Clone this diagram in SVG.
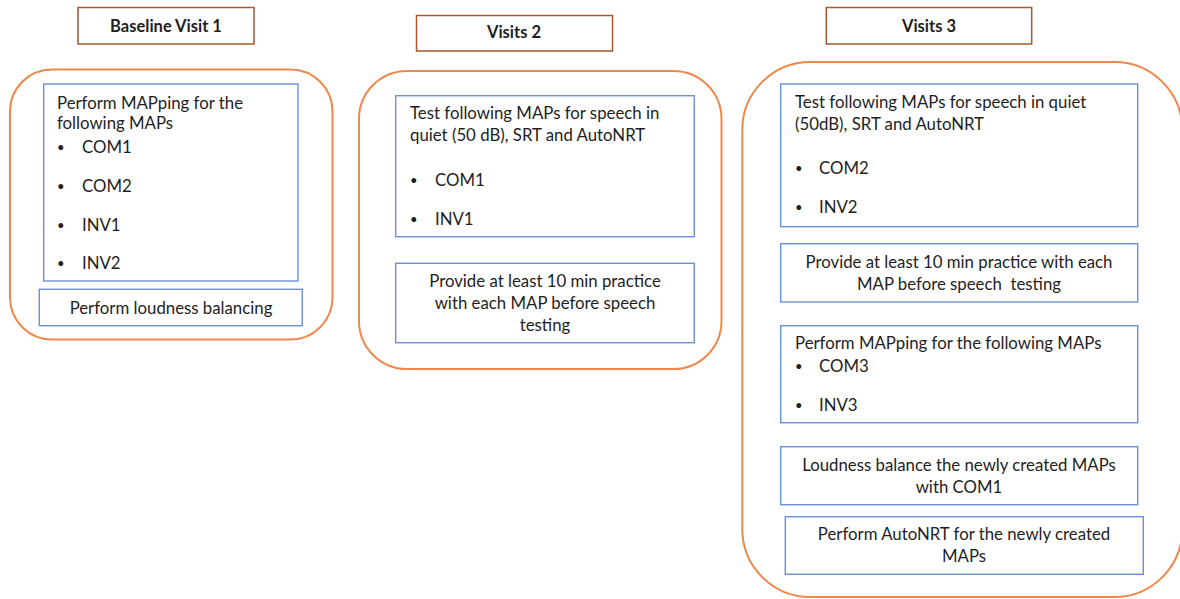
<svg xmlns="http://www.w3.org/2000/svg" width="1180" height="599" viewBox="0 0 1180 599">
<style>
.hdr{fill:#fff;stroke:#a9572e;stroke-width:1.5}
.cont{fill:#fff;stroke:#f0874a;stroke-width:2}
.box{fill:#fff;stroke:#6c8fdb;stroke-width:1.4}
text{font-family:Lato,"Liberation Sans",sans-serif;font-size:16.8px;fill:#1e1e1e}
.b{font-weight:bold;font-size:16.5px}
.c{text-anchor:middle}
.d{font-size:13px}
</style>
<rect width="1180" height="599" fill="#fff"/>
<g id="visit1">
<g id="h1"><rect class="hdr" x="78" y="7.5" width="176" height="36.5"/><text class="b c" x="166" y="32">Baseline Visit 1</text></g>
<rect class="cont" x="10" y="69.5" width="322.5" height="270" rx="42"/>
<g id="v1a"><rect class="box" x="43.7" y="84" width="254.3" height="197"/>
<text x="57" y="109">Perform MAPping for the</text>
<text x="57" y="129">following MAPs</text>
<text class="d" x="57" y="152">•</text><text x="82" y="153">COM1</text>
<text class="d" x="57" y="191">•</text><text x="82" y="192">COM2</text>
<text class="d" x="57" y="230">•</text><text x="82" y="231">INV1</text>
<text class="d" x="57" y="268">•</text><text x="82" y="269">INV2</text>
</g>
<g id="v1b"><rect class="box" x="39.3" y="289.3" width="263" height="36.4"/><text class="c" x="171" y="314">Perform loudness balancing</text></g>
</g>
<g id="visit2">
<g id="h2"><rect class="hdr" x="416.5" y="15.5" width="196" height="35.5"/><text class="b c" x="514" y="38">Visits 2</text></g>
<rect class="cont" x="359" y="71" width="362.5" height="298" rx="48"/>
<g id="v2a"><rect class="box" x="395.7" y="95.7" width="298.6" height="141"/>
<text x="410" y="119">Test following MAPs for speech in</text>
<text x="410" y="141">quiet (50 dB), SRT and AutoNRT</text>
<text class="d" x="410" y="185">•</text><text x="435" y="186">COM1</text>
<text class="d" x="410" y="224">•</text><text x="435" y="225">INV1</text>
</g>
<g id="v2b"><rect class="box" x="395.7" y="263.3" width="298.6" height="79.4"/>
<text class="c" x="545" y="287">Provide at least 10 min practice</text>
<text class="c" x="545" y="309">with each MAP before speech</text>
<text class="c" x="545" y="331">testing</text>
</g>
</g>
<g id="visit3">
<g id="h3"><rect class="hdr" x="826.3" y="7.5" width="205.4" height="36.5"/><text class="b c" x="929" y="32">Visits 3</text></g>
<rect class="cont" x="742.3" y="62" width="440" height="535" rx="68"/>
<g id="v3a"><rect class="box" x="780.7" y="84" width="357" height="142.7"/>
<text x="795" y="108">Test following MAPs for speech in quiet</text>
<text x="795" y="130">(50dB), SRT and AutoNRT</text>
<text class="d" x="795" y="173">•</text><text x="819" y="174">COM2</text>
<text class="d" x="795" y="212">•</text><text x="819" y="213">INV2</text>
</g>
<g id="v3b"><rect class="box" x="780.7" y="243.7" width="357" height="58.3"/>
<text class="c" x="959" y="268">Provide at least 10 min practice with each</text>
<text class="c" x="959" y="290" style="white-space:pre">MAP before speech  testing</text>
</g>
<g id="v3c"><rect class="box" x="780.7" y="325.7" width="357" height="97"/>
<text x="795" y="349">Perform MAPping for the following MAPs</text>
<text class="d" x="795" y="371">•</text><text x="819" y="372">COM3</text>
<text class="d" x="795" y="410">•</text><text x="819" y="411">INV3</text>
</g>
<g id="v3d"><rect class="box" x="780.7" y="446.7" width="357" height="58"/>
<text class="c" x="959" y="471">Loudness balance the newly created MAPs</text>
<text class="c" x="959" y="493">with COM1</text>
</g>
<g id="v3e"><rect class="box" x="785.3" y="516.7" width="358" height="57.6"/>
<text class="c" x="964" y="540">Perform AutoNRT for the newly created</text>
<text class="c" x="964" y="562">MAPs</text>
</g>
</g>
<g id="connectors"></g>
</svg>
